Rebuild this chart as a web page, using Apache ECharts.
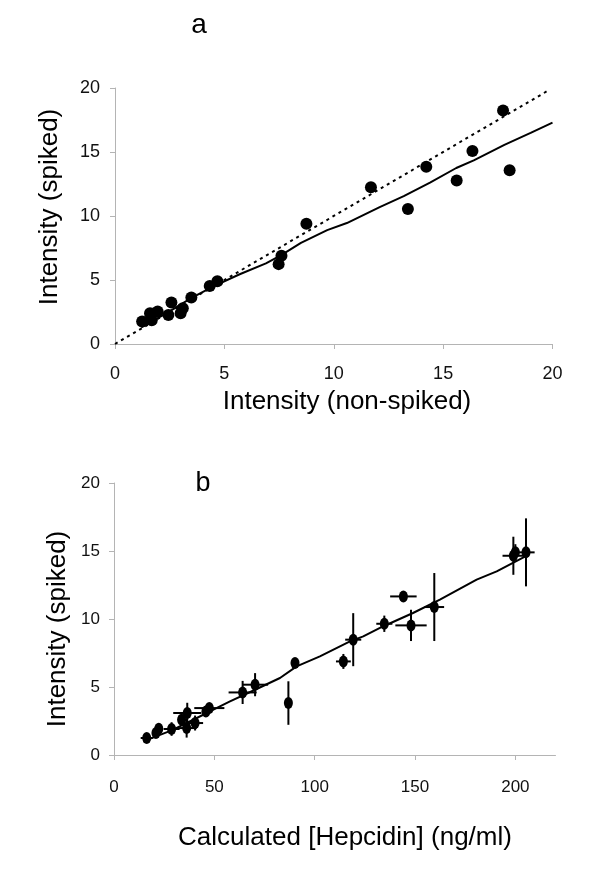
<!DOCTYPE html>
<html>
<head>
<meta charset="utf-8">
<script src="https://cdn.jsdelivr.net/npm/echarts@6/dist/echarts.min.js"></script>
<style>
html,body{margin:0;padding:0;background:#fff;}
#chart{width:600px;height:884px;}
</style>
</head>
<body>
<div id="chart"></div>
<script>
// ---- Panel a data ----
const aTicks = [0, 5, 10, 15, 20];
const aPointsX = [1.24, 1.6, 1.68, 1.95, 2.44, 2.58, 3.0, 3.1, 3.49, 4.33, 4.68, 7.48, 7.61, 8.75, 11.7, 13.39, 14.23, 15.62, 16.34, 17.74, 18.04];
const aPointsY = [1.75, 2.4, 1.85, 2.53, 2.27, 3.24, 2.4, 2.79, 3.63, 4.54, 4.9, 6.24, 6.9, 9.4, 12.25, 10.55, 13.84, 12.77, 15.07, 18.24, 13.58];
const aIdentityX = [0, 19.8];
const aIdentityY = [0, 19.8];
const aFitX = [1.2, 2.4, 3.5, 4.5, 5.7, 6.9, 7.6, 8.5, 9.7, 10.6, 12.1, 13.2, 14.4, 15.6, 16.4, 17.8, 19.0, 20.0];
const aFitY = [1.3, 2.45, 3.6, 4.5, 5.45, 6.3, 6.95, 7.9, 8.9, 9.45, 10.7, 11.55, 12.6, 13.75, 14.35, 15.55, 16.5, 17.3];

// ---- Panel b data ----
const bXTicks = [0, 50, 100, 150, 200];
const bYTicks = [0, 5, 10, 15, 20];
const bX    = [16.3, 20.9, 22.3, 28.7, 33.7, 36.2, 36.5, 40.4, 45.8, 47.5, 64.1, 70.3, 86.9, 90.2, 114.3, 119.2, 134.7, 144.2, 148.0, 159.6, 199.0, 200.0, 205.3];
const bY    = [1.25, 1.62, 1.93, 1.91, 2.6, 1.98, 3.09, 2.35, 3.2, 3.45, 4.6, 5.17, 3.82, 6.76, 6.88, 8.48, 9.65, 11.66, 9.53, 10.88, 14.65, 14.9, 14.9];
const bXErr = [3, 1.5, 1, 4, 2, 5, 7, 4, 1.5, 7.5, 7, 6.5, 0.5, 0.5, 3.7, 4, 4, 6.6, 7.8, 4.9, 5.4, 1, 4.3];
const bYErr = [0.2, 0.3, 0.35, 0.5, 0.3, 0.7, 0.75, 0.55, 0.25, 0.3, 0.85, 0.85, 1.6, 0.2, 0.55, 1.95, 0.6, 0.15, 1.15, 2.5, 1.4, 0.6, 2.5];
const bFitX = [14.6, 28.7, 47.8, 57.8, 70.3, 82.7, 91, 102.6, 117.6, 124.2, 134, 149, 162.4, 180.7, 190.7, 205];
const bFitY = [1.0, 1.81, 3.2, 3.94, 4.8, 5.66, 6.52, 7.25, 8.35, 8.72, 9.45, 10.44, 11.42, 12.89, 13.5, 14.6];

const zip = (xs, ys) => xs.map((x, i) => [x, ys[i]]);

const axisGray = '#b4b4b4';
const regFont = "'Liberation Sans', Arial, sans-serif";

function valAxis(idx, min, max, interval, ticks, margin, size) {
  return {
    type: 'value', gridIndex: idx, min: min, max: max, interval: interval,
    splitLine: { show: false },
    axisLine: { show: true, lineStyle: { color: axisGray, width: 1 } },
    axisTick: { show: true, inside: false, length: 5, customValues: ticks, lineStyle: { color: axisGray, width: 1 } },
    axisLabel: { show: true, margin: margin, customValues: ticks, color: '#111', fontFamily: regFont, fontSize: size }
  };
}

const chart = echarts.init(document.getElementById('chart'), null, { renderer: 'canvas' });

const option = {
  animation: false,
  backgroundColor: '#fff',
  grid: [
    { left: 115, right: 47.5, top: 88, bottom: 540, containLabel: false, outerBoundsMode: 'none' },
    { left: 114, right: 44.5, top: 483, bottom: 129, containLabel: false, outerBoundsMode: 'none' }
  ],
  xAxis: [
    valAxis(0, 0, 20, 5, aTicks, 21, 18),
    valAxis(1, 0, 220, 50, bXTicks, 24, 17)
  ],
  yAxis: [
    valAxis(0, 0, 20, 5, aTicks, 15, 18),
    valAxis(1, 0, 20, 5, bYTicks, 14, 17)
  ],
  graphic: [
    { type: 'text', x: 199, y: 25, style: { text: 'a', font: "28px 'Liberation Sans', Arial, sans-serif", fill: '#000', align: 'center', verticalAlign: 'middle' } },
    { type: 'text', x: 347, y: 402, style: { text: 'Intensity (non-spiked)', font: "26px 'Liberation Sans', Arial, sans-serif", fill: '#000', align: 'center', verticalAlign: 'middle' } },
    { type: 'text', x: 50, y: 207, rotation: Math.PI / 2, style: { text: 'Intensity (spiked)', font: "26px 'Liberation Sans', Arial, sans-serif", fill: '#000', align: 'center', verticalAlign: 'middle' } },
    { type: 'text', x: 203, y: 484, style: { text: 'b', font: "27px 'Liberation Sans', Arial, sans-serif", fill: '#000', align: 'center', verticalAlign: 'middle' } },
    { type: 'text', x: 58, y: 629, rotation: Math.PI / 2, style: { text: 'Intensity (spiked)', font: "26px 'Liberation Sans', Arial, sans-serif", fill: '#000', align: 'center', verticalAlign: 'middle' } },
    { type: 'text', x: 345, y: 838, style: { text: 'Calculated [Hepcidin] (ng/ml)', font: "26px 'Liberation Sans', Arial, sans-serif", fill: '#000', align: 'center', verticalAlign: 'middle' } }
  ],
  series: [
    {
      type: 'line', xAxisIndex: 0, yAxisIndex: 0, data: zip(aIdentityX, aIdentityY),
      showSymbol: false, symbol: 'none', lineStyle: { color: '#000', width: 2, type: [3, 4] }, z: 2
    },
    {
      type: 'line', xAxisIndex: 0, yAxisIndex: 0, data: zip(aFitX, aFitY),
      showSymbol: false, symbol: 'none', lineStyle: { color: '#000', width: 2 }, z: 2
    },
    {
      type: 'scatter', xAxisIndex: 0, yAxisIndex: 0, data: zip(aPointsX, aPointsY),
      symbol: 'circle', symbolSize: 12, itemStyle: { color: '#000', opacity: 1 }, z: 3
    },
    {
      type: 'line', xAxisIndex: 1, yAxisIndex: 1, data: zip(bFitX, bFitY),
      showSymbol: false, symbol: 'none', lineStyle: { color: '#000', width: 2 }, z: 2
    },
    {
      type: 'custom', xAxisIndex: 1, yAxisIndex: 1,
      data: bX.map((x, i) => [x, bY[i], bXErr[i], bYErr[i]]),
      renderItem: function (params, api) {
        const x = api.value(0), y = api.value(1), ex = api.value(2), ey = api.value(3);
        const l = api.coord([x - ex, y]), r = api.coord([x + ex, y]);
        const t = api.coord([x, y + ey]), b = api.coord([x, y - ey]);
        const st = { stroke: '#000', lineWidth: 2 };
        return {
          type: 'group',
          children: [
            { type: 'line', shape: { x1: l[0], y1: l[1], x2: r[0], y2: r[1] }, style: st },
            { type: 'line', shape: { x1: t[0], y1: t[1], x2: b[0], y2: b[1] }, style: st }
          ]
        };
      },
      z: 3
    },
    {
      type: 'scatter', xAxisIndex: 1, yAxisIndex: 1, data: zip(bX, bY),
      symbol: 'circle', symbolSize: [9, 12], itemStyle: { color: '#000', opacity: 1 }, z: 4
    }
  ]
};
chart.setOption(option);
</script>
</body>
</html>
